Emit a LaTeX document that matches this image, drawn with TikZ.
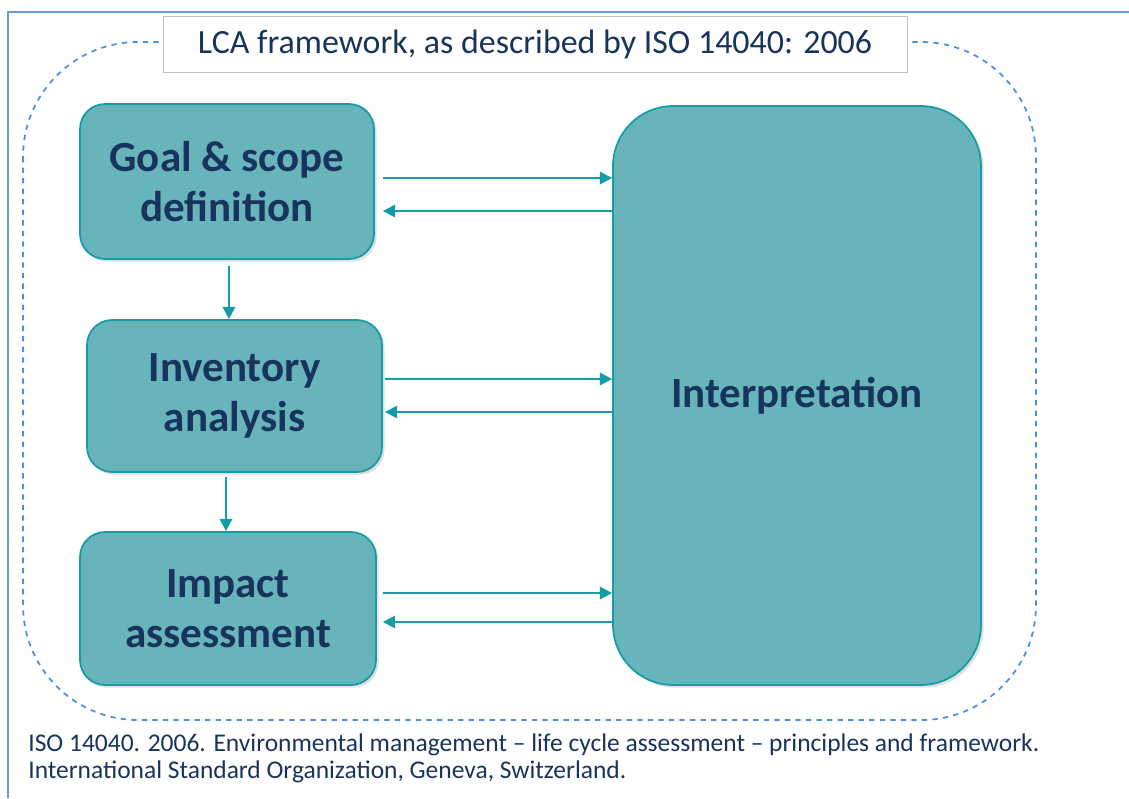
\documentclass[tikz,border=0pt]{standalone}
\usepackage{fontspec}
\setmainfont{Carlito}
\usepackage{tikz}
\usetikzlibrary{arrows.meta}
\usetikzlibrary{shadows}

\definecolor{tealfill}{RGB}{103,180,187}
\definecolor{tealline}{RGB}{22,156,166}
\definecolor{navytext}{RGB}{24,52,92}
\definecolor{dashblue}{RGB}{74,144,226}
\definecolor{frameblue}{RGB}{106,155,208}

\begin{document}
\begin{tikzpicture}[x=0.02cm,y=-0.02cm,
	stage node/.style={rectangle, rounded corners=0.5cm, draw=tealline, line width=1pt, fill=tealfill,
		drop shadow={opacity=0.25, shadow xshift=1.5pt, shadow yshift=-1.5pt},
		text=navytext, font=\fontsize{24.5}{28.5}\selectfont\bfseries, align=center, inner sep=0pt},
	flow/.style={-{Triangle[length=7pt,width=7pt]}, draw=tealline, line width=1.4pt}]
	\useasboundingbox (0,0) rectangle (1129,798);
	% Frame
	\draw[frameblue, line width=1.2pt] (1129,12) -- (8,12) -- (8,798);
	\draw[dashblue, dashed, line width=1pt, rounded corners=2.3cm] (23,42) rectangle (1036,720);
	
	% Title
	\node [draw=black!25, fill=white, minimum width=14.88cm, minimum height=1.12cm, inner sep=0pt,
		text=navytext, font=\fontsize{19.3}{22}\selectfont] (title) at (535,44) {LCA framework, as described by ISO 14040: 2006};
	
	% Nodes
	\node [stage node, minimum width=5.88cm, minimum height=3.1cm] (goal) at (227,181.5) {Goal \& scope\\definition};
	\node [stage node, minimum width=5.9cm, minimum height=3.04cm] (inventory) at (234.5,396) {Inventory\\analysis};
	\node [stage node, minimum width=5.92cm, minimum height=3.06cm] (impact) at (228,608.5) {Impact\\assessment};
	\node [stage node, rounded corners=1.2cm, minimum width=7.36cm, minimum height=11.58cm] (interp) at (797,395.5) {Interpretation};
	
	% Arrows
	\draw[flow] ([xshift=0.16cm]goal.east |- 0,178) -- (interp.west |- 0,178);
	\draw[flow] (interp.west |- 0,211) -- ([xshift=0.16cm]goal.east |- 0,211);
	\draw[flow] ([xshift=0.04cm]inventory.east |- 0,379) -- (interp.west |- 0,379);
	\draw[flow] (interp.west |- 0,412) -- ([xshift=0.04cm]inventory.east |- 0,412);
	\draw[flow] ([xshift=0.12cm]impact.east |- 0,593) -- (interp.west |- 0,593);
	\draw[flow] (interp.west |- 0,622) -- ([xshift=0.12cm]impact.east |- 0,622);
	\draw[flow] ([yshift=-0.12cm]goal.south -| 229,0) -- (inventory.north -| 229,0);
	\draw[flow] ([yshift=-0.08cm]inventory.south -| 226,0) -- (impact.north -| 226,0);
	
	% Reference
	\node [anchor=north west, align=left, text=navytext, inner sep=0pt,
		font=\fontsize{14.5}{15.4}\selectfont] (ref) at (28,733)
		{ISO 14040. 2006. Environmental management -- life cycle assessment -- principles and framework.\\
		International Standard Organization, Geneva, Switzerland.};
\end{tikzpicture}
\end{document}
